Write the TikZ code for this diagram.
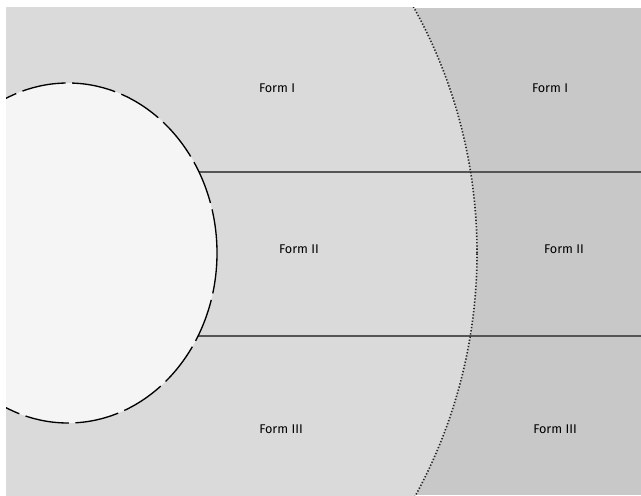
\documentclass[tikz,border=0pt]{standalone}
\usepackage{fontspec}
\setsansfont{Fira Sans}
\definecolor{bgleft}{RGB}{218,218,218}
\definecolor{bgright}{RGB}{200,200,200}
\definecolor{ellfill}{RGB}{245,245,245}
\definecolor{sepline}{RGB}{85,85,85}
\tikzset{
  formlabel/.style={font=\sffamily\fontsize{9.5}{11}\selectfont, text=black, inner sep=0pt},
  sepstyle/.style={draw=sepline, line width=1.1pt},
  arcstyle/.style={draw=black!85, line width=1.2pt, dash pattern=on 1pt off 1.4pt},
  ellstyle/.style={draw=black, fill=ellfill, line width=1pt, dash pattern=on 33pt off 5pt}
}
\begin{document}
\begin{tikzpicture}[x=0.75pt,y=-0.75pt]
\useasboundingbox (0,0) rectangle (641,495);
\fill[white] (0,0) rectangle (641,495);
\begin{scope}
  \clip (6,8) rectangle (641,495);
  \fill[bgright] (6,8) rectangle (641,495);
  \fill[bgleft] (-31,253) circle [radius=381pt];
  \draw[sepstyle] (100,172) -- (641,172);
  \draw[sepstyle] (100,336) -- (641,336);
  \draw[arcstyle] (-31,253) circle [radius=381pt];
  \path[ellstyle] (68,253) ellipse [x radius=111.75pt, y radius=127.5pt];
\end{scope}
\node[formlabel] (l1) at (277,88) {Form I};
\node[formlabel] (r1) at (550,88) {Form I};
\node[formlabel] (l2) at (299,249) {Form II};
\node[formlabel] (r2) at (564,249) {Form II};
\node[formlabel] (l3) at (281,429) {Form III};
\node[formlabel] (r3) at (555,429) {Form III};
\end{tikzpicture}
\end{document}
